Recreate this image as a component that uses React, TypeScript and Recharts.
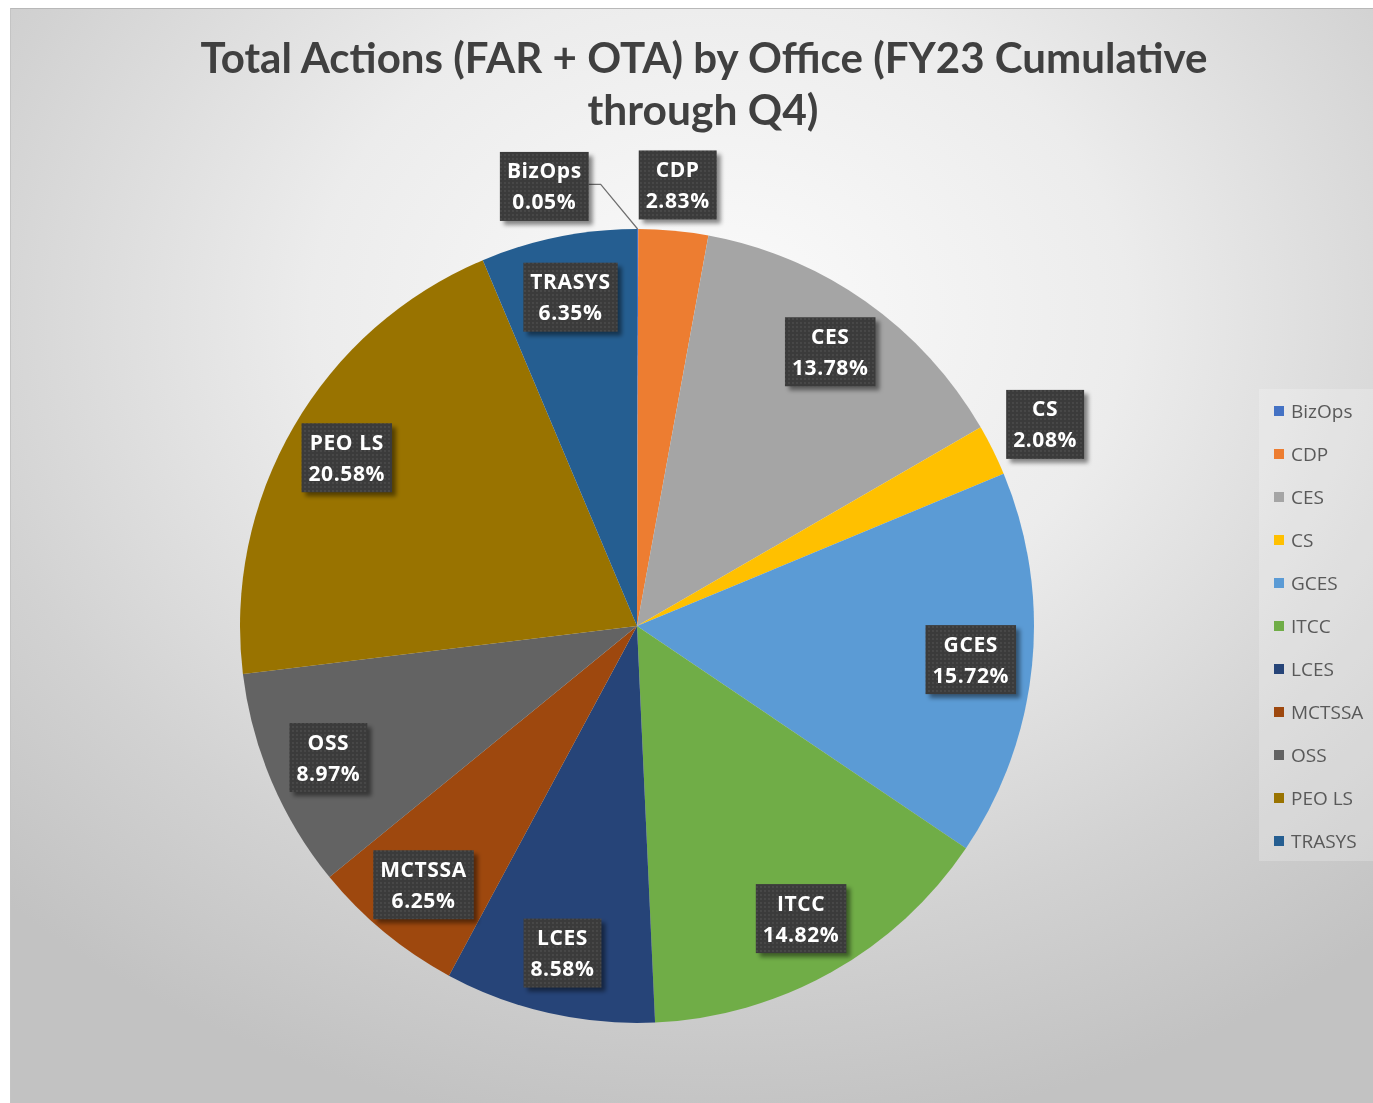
import { PieChart, Pie, Cell, Legend } from 'recharts';

const offices = ['BizOps', 'CDP', 'CES', 'CS', 'GCES', 'ITCC', 'LCES', 'MCTSSA', 'OSS', 'PEO LS', 'TRASYS'];
const shares = [0.05, 2.83, 13.78, 2.08, 15.72, 14.82, 8.58, 6.25, 8.97, 20.58, 6.35];
const colors = ['#4472C4', '#ED7D31', '#A5A5A5', '#FFC000', '#5B9BD5', '#70AD47', '#264478', '#9E480E', '#636363', '#997300', '#255E91'];
const titleLines = ['Total Actions (FAR + OTA) by Office (FY23 Cumulative', 'through Q4)'];

const data = offices.map((name, i) => ({ name, value: shares[i], fill: colors[i] }));

const RAD = Math.PI / 180;
const LABEL_FONT = 'bold 21px "Open Sans"';
const LETTER = 0.6;

let ctx: CanvasRenderingContext2D | null = null;
const measure = (s: string) => {
  if (!ctx) ctx = document.createElement('canvas').getContext('2d');
  if (!ctx) return s.length * 12;
  ctx.font = LABEL_FONT;
  return ctx.measureText(s).width + LETTER * s.length;
};

const renderLabel = (props: any) => {
  const { cx, cy, midAngle, outerRadius, index } = props;
  const item = data[index];
  const pct = item.value.toFixed(2) + '%';
  const w = Math.max(measure(item.name), measure(pct)) + 14;
  const h = 69;
  const dx = Math.cos(-midAngle * RAD);
  const dy = Math.sin(-midAngle * RAD);
  let r = outerRadius * 0.845;
  if (item.value < 3) r = outerRadius + 8 + (w / 2) * Math.abs(dx) + (h / 2) * Math.abs(dy);
  let x = cx + r * dx;
  const y = cy + r * dy;
  const tiny = item.value < 0.5;
  if (tiny) x = x - w / 2 - 49;
  const id = `lbl-${index}`;
  return (
    <g key={id}>
      <defs>
        <pattern id={`${id}-pat`} width="4" height="4" patternUnits="userSpaceOnUse">
          <rect width="4" height="4" fill="#3b3b3b" />
          <circle cx="2" cy="2" r="0.9" fill="#4d4d4d" />
        </pattern>
        <filter id={`${id}-blur`} x="-20%" y="-20%" width="140%" height="140%">
          <feGaussianBlur stdDeviation="2.2" />
        </filter>
      </defs>
      {tiny && (
        <polyline
          points={`${x + w / 2},${y - 2} ${x + w / 2 + 12},${y - 2} ${cx + outerRadius * dx},${cy + outerRadius * dy}`}
          fill="none"
          stroke="#6f6f6f"
          strokeWidth={1.2}
        />
      )}
      <rect x={x - w / 2 + 4} y={y - h / 2 + 4} width={w} height={h} fill="rgba(0,0,0,0.45)" filter={`url(#${id}-blur)`} />
      <rect x={x - w / 2} y={y - h / 2} width={w} height={h} fill={`url(#${id}-pat)`} />
      <text
        x={x}
        textAnchor="middle"
        fill="#ffffff"
        fontFamily='"Open Sans", sans-serif'
        fontWeight="bold"
        fontSize={21}
        letterSpacing={LETTER}
      >
        <tspan x={x} y={y - 8}>{item.name}</tspan>
        <tspan x={x} y={y + 23}>{pct}</tspan>
      </text>
    </g>
  );
};

const renderLegend = (props: any) => {
  const payload = props.payload || [];
  return (
    <div style={{ width: 115, height: 472, background: 'rgba(255,255,255,0.22)', boxSizing: 'border-box' }}>
      {payload.map((entry: any) => {
        const i = offices.indexOf(entry.value);
        return (
          <div key={entry.value} style={{ display: 'flex', alignItems: 'center', height: 43.1, paddingLeft: 15 }}>
            <div style={{ width: 10, height: 10, background: colors[i] ?? entry.color, marginRight: 7 }} />
            <span style={{ fontFamily: '"Open Sans", sans-serif', fontSize: 19, color: '#595959' }}>{entry.value}</span>
          </div>
        );
      })}
    </div>
  );
};

export default function App() {
  return (
    <div
      style={{
        position: 'fixed',
        left: 10,
        top: 8,
        width: 1363,
        height: 1095,
        boxSizing: 'border-box',
        borderTop: '1px solid #b8b8b8',
        borderLeft: '1px solid #c4c4c4',
        background: 'radial-gradient(ellipse 75% 75% at 52% 28%, #fbfbfb 0%, #ececec 40%, #d2d2d2 75%, #c2c2c2 100%)',
        overflow: 'hidden',
      }}
    >
      <style>{'html { overflow: hidden; }'}</style>
      <svg width={1363} height={140} style={{ position: 'absolute', left: 0, top: 0 }}>
        <text
          x={693}
          y={64}
          textAnchor="middle"
          fontFamily='Lato, "Open Sans", sans-serif'
          fontWeight="bold"
          fontSize={42}
          fill="#404040"
          textLength={1007}
          lengthAdjust="spacingAndGlyphs"
        >
          {titleLines[0]}
        </text>
        <text
          x={692}
          y={116}
          textAnchor="middle"
          fontFamily='Lato, "Open Sans", sans-serif'
          fontWeight="bold"
          fontSize={42}
          fill="#404040"
          textLength={231}
          lengthAdjust="spacingAndGlyphs"
        >
          {titleLines[1]}
        </text>
      </svg>
      <div style={{ position: 'absolute', left: 0, top: 0 }}>
        <PieChart width={1363} height={1095}>
          <Pie
            data={data}
            dataKey="value"
            nameKey="name"
            cx={621}
            cy={612}
            outerRadius={397}
            startAngle={90}
            endAngle={-270}
            stroke="none"
            labelLine={false}
            label={renderLabel}
            isAnimationActive={false}
          >
            {data.map((entry, index) => (
              <Cell key={`cell-${index}`} fill={entry.fill} />
            ))}
          </Pie>
          <Legend
            layout="vertical"
            align="right"
            verticalAlign="top"
            content={renderLegend}
            wrapperStyle={{ top: 380, right: 0, left: 'auto', width: 115 }}
          />
        </PieChart>
      </div>
    </div>
  );
}
